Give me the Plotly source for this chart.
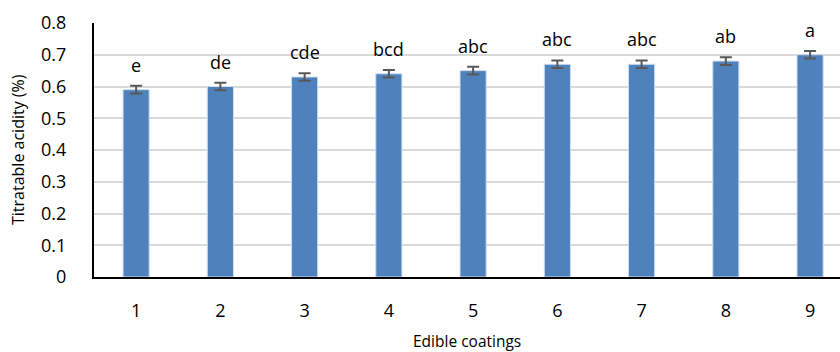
import plotly.graph_objects as go

coatings = [1, 2, 3, 4, 5, 6, 7, 8, 9]
acidity = [0.59, 0.60, 0.63, 0.64, 0.65, 0.67, 0.67, 0.68, 0.70]
errors = [0.012, 0.012, 0.012, 0.012, 0.012, 0.012, 0.012, 0.012, 0.012]
letters = ["e", "de", "cde", "bcd", "abc", "abc", "abc", "ab", "a"]
y_ticks = [0, 0.1, 0.2, 0.3, 0.4, 0.5, 0.6, 0.7, 0.8]

FONT = "Open Sans"

fig = go.Figure()
fig.add_trace(go.Bar(
    x=coatings, y=acidity, width=0.31,
    marker=dict(color="#4F81BD", line=dict(color="#CFDDEE", width=1)),
    error_y=dict(type="data", array=errors, visible=True,
                 color="#595959", thickness=2, width=6),
))

for c, v, e, t in zip(coatings, acidity, errors, letters):
    fig.add_annotation(x=c, y=v + e, text=t, showarrow=False,
                       yanchor="bottom", yshift=7,
                       font=dict(family=FONT, size=18, color="#000000"))

fig.add_annotation(xref="paper", yref="paper", x=(467 - 94) / 746, y=-(341 - 277) / 254,
                   text="Edible coatings", showarrow=False,
                   yanchor="middle", xanchor="center",
                   font=dict(family=FONT, size=15.5, color="#000000"))
fig.add_annotation(xref="paper", yref="paper", x=-76 / 746, y=(277 - 150) / 254,
                   text="Titratable acidity (%)", showarrow=False, textangle=-90,
                   xanchor="center", yanchor="middle",
                   font=dict(family=FONT, size=16, color="#000000"))

fig.update_layout(
    width=840, height=352,
    margin=dict(l=94, r=0, t=23, b=75),
    paper_bgcolor="white", plot_bgcolor="white",
    showlegend=False,
    font=dict(family=FONT, color="#000000"),
    xaxis=dict(range=[0.5, 9.355], tickvals=coatings, ticktext=[str(c) for c in coatings],
               showgrid=False, showline=True, linecolor="#000000", linewidth=2,
               ticks="", ticklabelstandoff=16, tickfont=dict(size=18), zeroline=False),
    yaxis=dict(range=[0, 0.8], tickvals=y_ticks, ticktext=[("%g" % v) for v in y_ticks],
               showgrid=True, gridcolor="#D9D9D9", gridwidth=1.5,
               showline=True, linecolor="#000000", linewidth=2,
               ticks="", ticklabelstandoff=22, tickfont=dict(size=18), zeroline=False),
)

fig.write_html("out.html")
